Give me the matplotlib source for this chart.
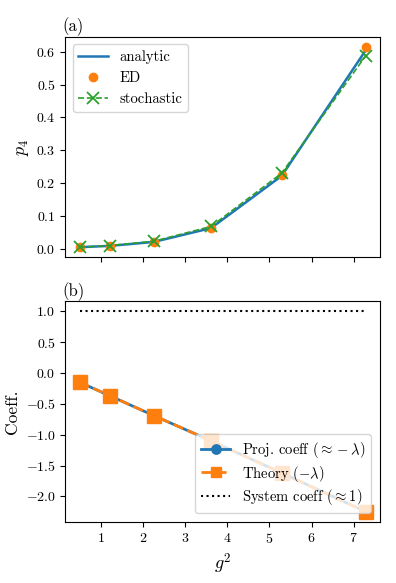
import matplotlib
matplotlib.use("Agg")
import matplotlib.pyplot as plt
import numpy as np

plt.rcParams['font.family'] = 'serif'
plt.rcParams['font.serif'] = ['cmr10']
plt.rcParams['mathtext.fontset'] = 'cm'
plt.rcParams['axes.formatter.use_mathtext'] = True
plt.rcParams['font.size'] = 10

# datos
g2 = [0.49, 1.21, 2.25, 3.61, 5.29, 7.29]
p4_analytic = [0.005, 0.009, 0.021, 0.063, 0.222, 0.605]
p4_ed = [0.005, 0.009, 0.021, 0.064, 0.225, 0.615]
p4_stoch = [0.005, 0.010, 0.023, 0.068, 0.230, 0.588]

proj_coeff = [-0.15, -0.37, -0.69, -1.10, -1.62, -2.25]
theory = [-0.15, -0.37, -0.69, -1.10, -1.62, -2.25]
system_coeff = [1.0, 1.0, 1.0, 1.0, 1.0, 1.0]

fig, (ax1, ax2) = plt.subplots(2, 1, figsize=(3.96, 5.83), dpi=100, sharex=True)
fig.subplots_adjust(left=0.165, right=0.96, top=0.937, bottom=0.105, hspace=0.2)

# (a)
ax1.plot(g2, p4_analytic, '-', color='C0', lw=1.8, label='analytic')
ax1.plot(g2, p4_ed, 'o', color='C1', ms=6, label='ED')
ax1.plot(g2, p4_stoch, '--x', color='C2', ms=8, mew=1.3, lw=1.2, label='stochastic')
ax1.set_ylabel('$p_4$', fontsize=13)
ax1.set_yticks([0.0, 0.1, 0.2, 0.3, 0.4, 0.5, 0.6])
ax1.legend(loc='upper left', fontsize=10.5)
ax1.set_title('(a)', loc='left', fontsize=12, pad=4, x=-0.01)
ax1.tick_params(labelbottom=False)

# (b)
ax2.plot(g2, proj_coeff, '-o', color='C0', lw=2, ms=9, label=r'Proj. coeff ($\approx -\lambda$)')
ax2.plot(g2, theory, '--s', color='C1', lw=2, ms=10, label=r'Theory ($-\lambda$)')
ax2.plot(g2, system_coeff, ':', color='k', lw=1.5, label=r'System coeff ($\approx 1$)')
ax2.set_ylabel('Coeff.', fontsize=12.5)
ax2.set_xlabel('$g^2$', fontsize=13)
ax2.set_yticks([-2.0, -1.5, -1.0, -0.5, 0.0, 0.5, 1.0])
ax2.set_xticks([1, 2, 3, 4, 5, 6, 7])
ax2.legend(loc='lower right', markerscale=0.75, labelspacing=0.25, fontsize=10.5,
           borderaxespad=0.6)
ax2.set_title('(b)', loc='left', fontsize=12, pad=4, x=-0.01)

plt.savefig('out.png', dpi=100)
